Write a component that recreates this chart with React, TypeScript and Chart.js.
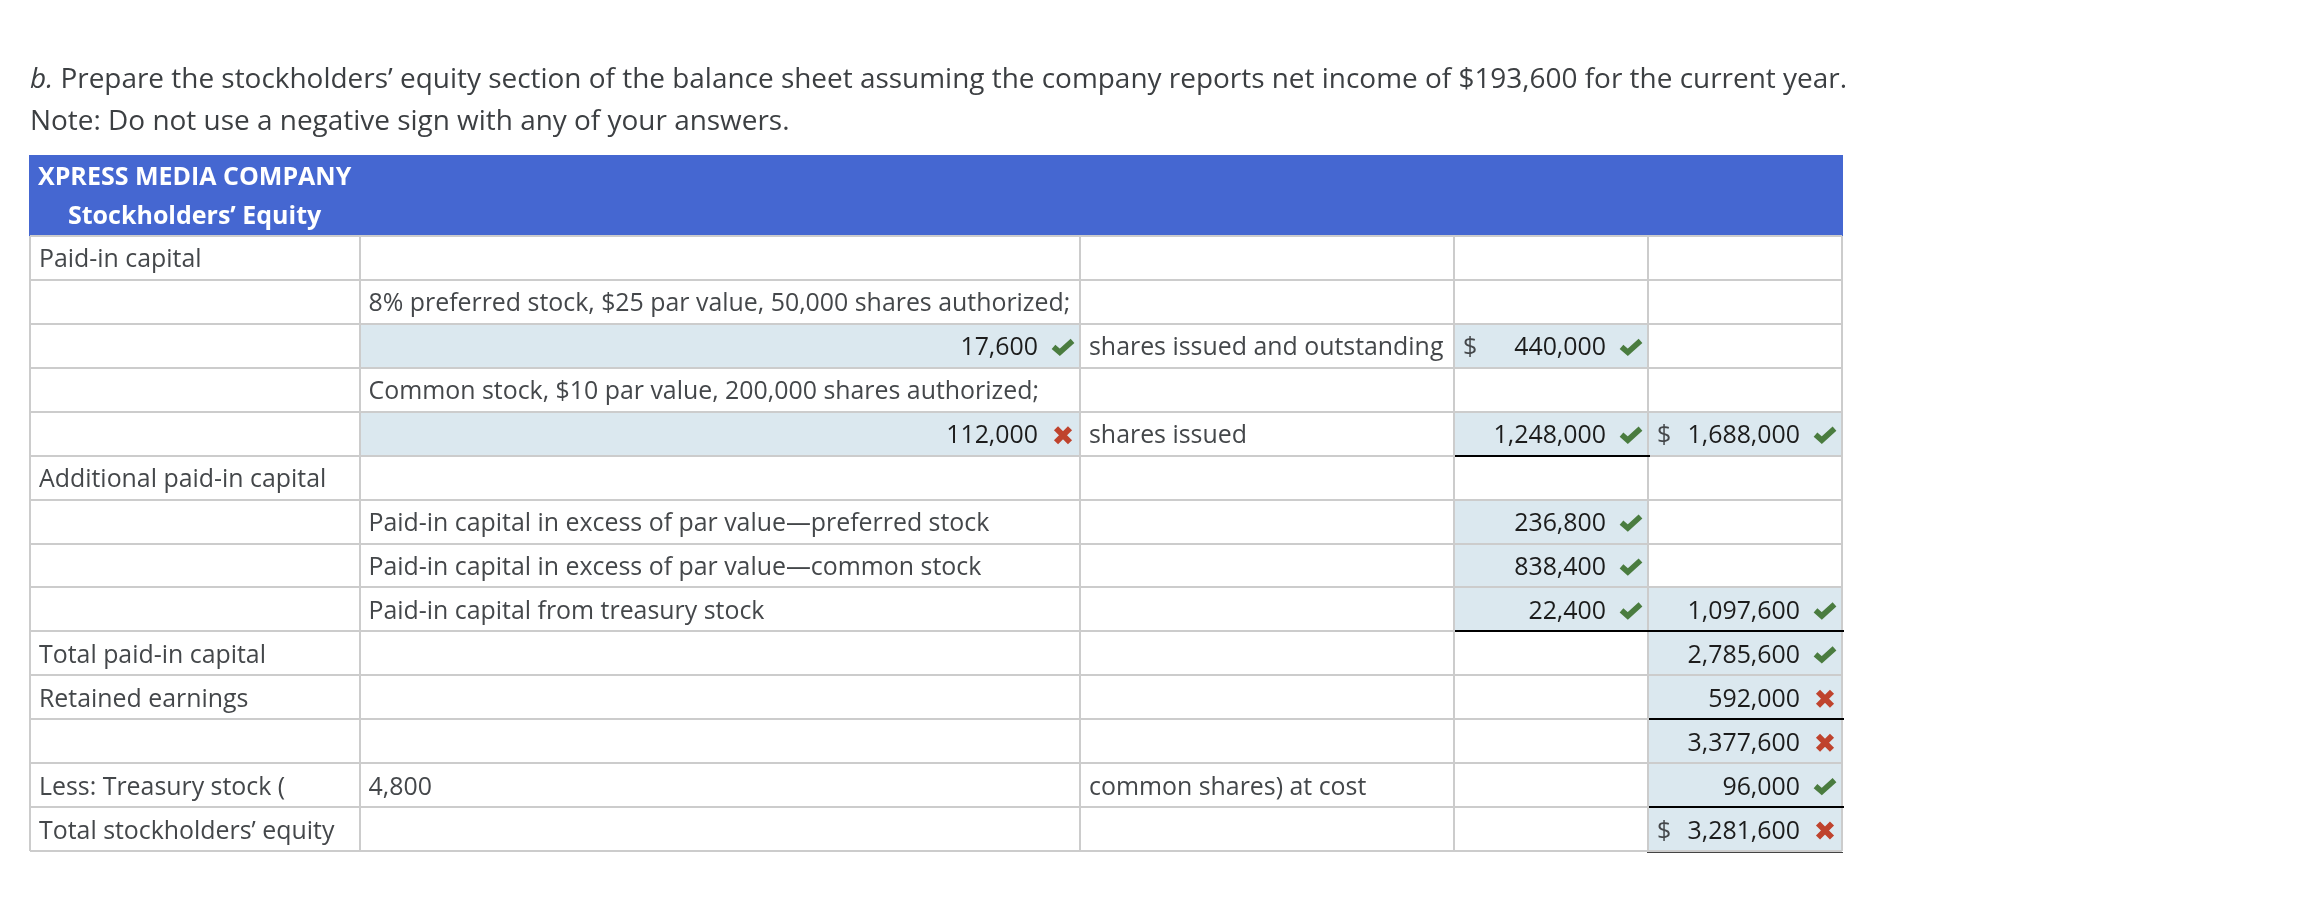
import React, { useEffect, useRef } from "react";
import { Chart, registerables } from "chart.js";

Chart.register(...registerables);

// table contents, one list per column, one slot per row
const rowLabels = [
  "Paid-in capital", "", "", "", "", "Additional paid-in capital", "", "", "",
  "Total paid-in capital", "Retained earnings", "", "Less: Treasury stock (", "Total stockholders\u2019 equity",
];
const descText = [
  "", "8% preferred stock, $25 par value, 50,000 shares authorized;", "", "Common stock, $10 par value, 200,000 shares authorized;", "", "",
  "Paid-in capital in excess of par value\u2014preferred stock",
  "Paid-in capital in excess of par value\u2014common stock",
  "Paid-in capital from treasury stock", "", "", "", "4,800", "",
];
const sharesValues = [null, null, 17600, null, 112000, null, null, null, null, null, null, null, null, null];
const sharesMarks = [null, null, "ok", null, "bad", null, null, null, null, null, null, null, null, null];
const noteText = [
  "", "", "shares issued and outstanding", "", "shares issued", "", "", "", "", "", "", "", "common shares) at cost", "",
];
const amountValues = [null, null, 440000, null, 1248000, null, 236800, 838400, 22400, null, null, null, null, null];
const amountMarks = [null, null, "ok", null, "ok", null, "ok", "ok", "ok", null, null, null, null, null];
const totalValues = [null, null, null, null, 1688000, null, null, null, 1097600, 2785600, 592000, 3377600, 96000, 3281600];
const totalMarks = [null, null, null, null, "ok", null, null, null, "ok", "ok", "bad", "bad", "ok", "bad"];
const amountDollarRows = [2];
const totalDollarRows = [4, 13];
const amountRuleRows = [4, 8];
const totalRuleRows = [8, 10, 12];

const heading = "Prepare the stockholders\u2019 equity section of the balance sheet assuming the company reports net income of $193,600 for the current year.";
const note = "Note: Do not use a negative sign with any of your answers.";
const company = "XPRESS MEDIA COMPANY";
const sheetTitle = "Stockholders\u2019 Equity";

// column edges, the x scale runs in these units
const columnEdges = [30, 360, 1080, 1454, 1648, 1842];

const FONT = '"Open Sans"';
const SHADE = "#dbe8ef";
const GRID = "#cccccc";
const CELL_FONT = `24.9px ${FONT}`;

const spans = (marks: (string | null)[], col: number) =>
  marks.map((m) => (m ? [columnEdges[col], columnEdges[col + 1]] : null));

// check and cross icons next to the answers
const drawMark = (ctx: CanvasRenderingContext2D, kind: string | null, cx: number, cy: number) => {
  ctx.save();
  ctx.lineCap = "butt";
  ctx.lineJoin = "miter";
  ctx.beginPath();
  if (kind === "ok") {
    ctx.strokeStyle = "#4a7c3f";
    ctx.lineWidth = 5.6;
    ctx.moveTo(cx - 9.5, cy - 0.5);
    ctx.lineTo(cx - 3.2, cy + 5);
    ctx.lineTo(cx + 9.5, cy - 6.5);
  } else {
    ctx.strokeStyle = "#bf432d";
    ctx.lineWidth = 5.8;
    ctx.moveTo(cx - 7, cy - 7);
    ctx.lineTo(cx + 7, cy + 7);
    ctx.moveTo(cx + 7, cy - 7);
    ctx.lineTo(cx - 7, cy + 7);
  }
  ctx.stroke();
  ctx.restore();
};

const tablePlugin = {
  id: "tableText",
  beforeDraw(chart: any) {
    const { ctx, chartArea } = chart;
    ctx.save();
    ctx.fillStyle = "#4567d1";
    ctx.fillRect(29, 155, chartArea.right - 29 + 1, chartArea.top - 155);
    ctx.restore();
  },
  afterDraw(chart: any) {
    const { ctx } = chart;
    const x = chart.scales.x;
    const y = chart.scales.y;
    const edge = (c: number) => x.getPixelForValue(columnEdges[c]);
    const base = (r: number) => y.getPixelForValue(r) + 9.5;
    const bottom = (r: number) => y.getPixelForValue(r) + (y.getPixelForValue(1) - y.getPixelForValue(0)) / 2;

    ctx.save();
    ctx.textBaseline = "alphabetic";

    // intro lines
    ctx.textAlign = "left";
    ctx.fillStyle = "#3c3f42";
    ctx.font = `italic 27.95px ${FONT}`;
    ctx.fillText("b.", 30, 88);
    const w = ctx.measureText("b. ").width;
    ctx.font = `27.95px ${FONT}`;
    ctx.fillText(heading, 30 + w, 88);
    ctx.fillText(note, 30, 130);

    // header band text
    ctx.fillStyle = "#ffffff";
    ctx.font = `bold 25px ${FONT}`;
    ctx.fillText(company, 38, 185);
    ctx.fillText(sheetTitle, 68, 224);

    const left = (list: string[], col: number, pad: number) => {
      list.forEach((t, r) => {
        if (t) ctx.fillText(t, edge(col) + pad, base(r));
      });
    };
    ctx.font = CELL_FONT;
    ctx.fillStyle = "#44474a";
    left(rowLabels, 0, 9);
    left(descText, 1, 8.5);
    left(noteText, 2, 9);
    amountDollarRows.forEach((r) => ctx.fillText("$", edge(3) + 9, base(r)));
    totalDollarRows.forEach((r) => ctx.fillText("$", edge(4) + 9, base(r)));

    const right = (vals: (number | null)[], marks: (string | null)[], col: number) => {
      vals.forEach((v, r) => {
        if (v === null) return;
        const end = edge(col + 1);
        ctx.textAlign = "right";
        ctx.font = CELL_FONT;
        ctx.fillStyle = "#1c1c1c";
        ctx.fillText(v.toLocaleString("en-US"), end - 42, base(r));
        drawMark(ctx, marks[r], end - 17, y.getPixelForValue(r) + 1.5);
      });
      ctx.textAlign = "left";
    };
    right(sharesValues, sharesMarks, 1);
    right(amountValues, amountMarks, 3);
    right(totalValues, totalMarks, 4);

    // black rules under subtotals
    ctx.fillStyle = "#000000";
    amountRuleRows.forEach((r) => ctx.fillRect(edge(3) + 1, Math.round(bottom(r)) - 1, edge(4) - edge(3) + 1, 2));
    totalRuleRows.forEach((r) => ctx.fillRect(edge(4) + 1, Math.round(bottom(r)) - 1, edge(5) - edge(4) + 1, 2));
    // double rule at the very bottom
    ctx.fillStyle = "#444444";
    ctx.fillRect(edge(4) - 1, Math.round(bottom(13)) + 1, edge(5) - edge(4) + 2, 1);
    ctx.restore();
  },
};

const App: React.FC = () => {
  const canvasRef = useRef<HTMLCanvasElement | null>(null);

  useEffect(() => {
    if (!canvasRef.current) return;
    const chart = new Chart(canvasRef.current, {
      type: "bar",
      data: {
        labels: rowLabels.map((_, i) => String(i)),
        datasets: [
          { data: spans(sharesMarks, 1) as any, backgroundColor: SHADE },
          { data: spans(amountMarks, 3) as any, backgroundColor: SHADE },
          { data: spans(totalMarks, 4) as any, backgroundColor: SHADE },
        ],
      },
      options: {
        indexAxis: "y",
        responsive: false,
        animation: false,
        devicePixelRatio: 1,
        layout: { padding: { left: 30, right: 471, top: 236, bottom: 67 } },
        plugins: { legend: { display: false }, tooltip: { enabled: false }, title: { display: false } },
        datasets: { bar: { barPercentage: 1, categoryPercentage: 1, grouped: false } },
        scales: {
          x: {
            type: "linear",
            min: columnEdges[0],
            max: columnEdges[columnEdges.length - 1],
            ticks: { display: false },
            border: { display: false },
            grid: { color: GRID, lineWidth: 2, drawTicks: false, z: 1 },
            afterBuildTicks: (axis: any) => {
              axis.ticks = columnEdges.map((value) => ({ value }));
            },
            afterFit: (axis: any) => {
              axis.height = 0;
            },
          },
          y: {
            type: "category",
            ticks: { display: false },
            border: { display: false },
            grid: { color: GRID, lineWidth: 2, drawTicks: false, offset: true, z: 1 },
            afterFit: (axis: any) => {
              axis.width = 0;
            },
          },
        },
      },
      plugins: [tablePlugin],
    });
    return () => chart.destroy();
  }, []);

  return (
    <div style={{ position: "absolute", left: 0, top: 0, background: "#fff" }}>
      <canvas ref={canvasRef} width={2313} height={918} style={{ display: "block" }} />
    </div>
  );
};

export default App;
